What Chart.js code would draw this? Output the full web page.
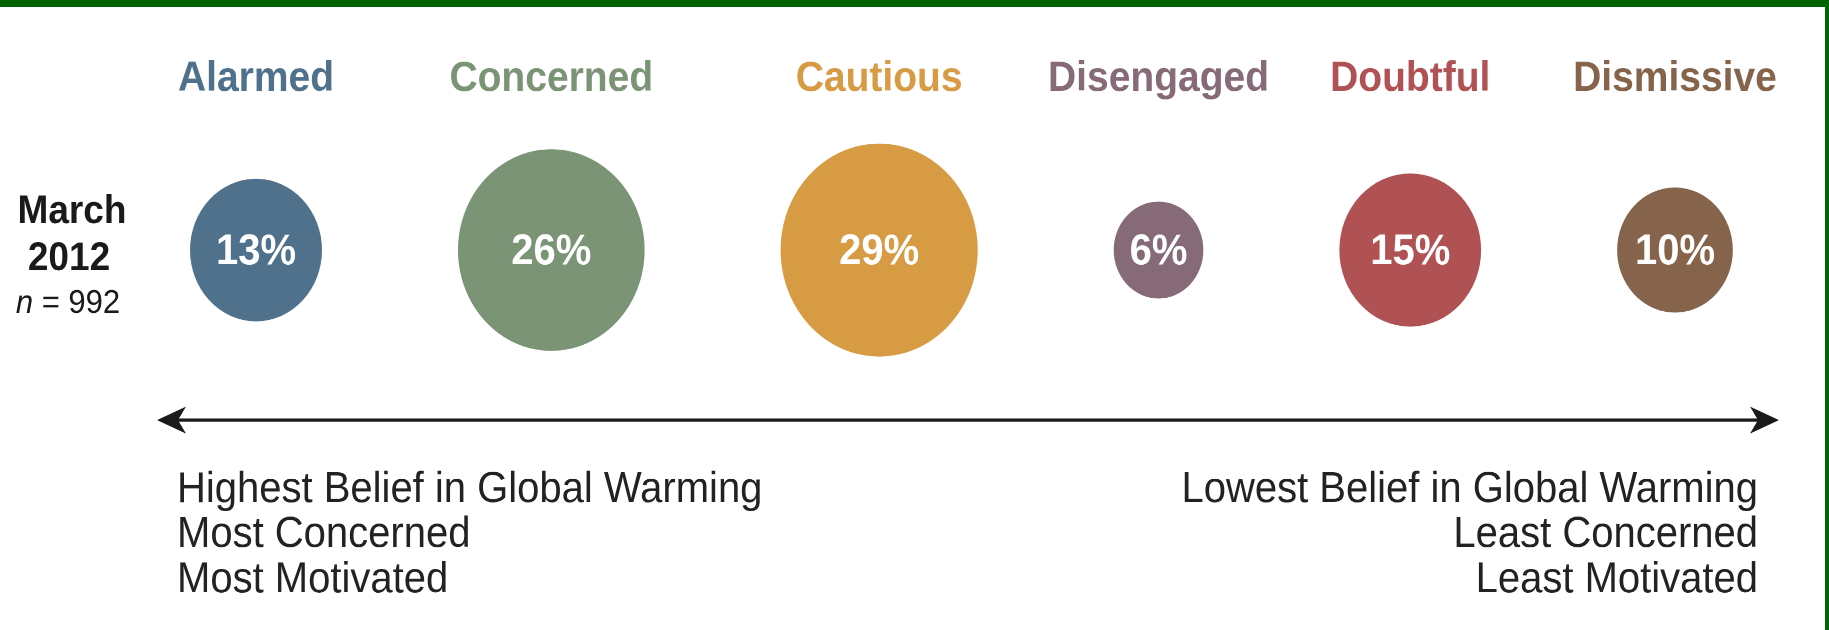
<!DOCTYPE html>
<html>
<head>
<meta charset="utf-8">
<script src="https://cdn.jsdelivr.net/npm/chart.js@4.4.1/dist/chart.umd.min.js"></script>
<style>
    html, body { margin: 0; padding: 0; background: #ffffff; }
    body { width: 1829px; height: 630px; overflow: hidden; position: relative; }
    #stretch {
        position: absolute; left: 0; top: 0;
        width: 1829px; height: 583px;
        transform: scaleY(1.0806); transform-origin: 0 0;
    }
    #frame {
        position: absolute; left: 0; top: 0;
        width: 1829px; height: 630px; box-sizing: border-box;
        border-top: 7px solid #006400; border-right: 4px solid #006400;
        pointer-events: none;
    }
</style>
</head>
<body>
<div id="stretch"><canvas id="segments"></canvas></div>
<div id="frame"></div>
<script>
// Global Warming's Six Americas, March 2012
const categories = ['Alarmed', 'Concerned', 'Cautious', 'Disengaged', 'Doubtful', 'Dismissive'];
const shares = [13, 26, 29, 6, 15, 10]; // percent of respondents
const colors = ['#50718c', '#7b9476', '#d69b43', '#866a77', '#b05254', '#86644b'];
const rowLabel = 'March 2012';
const sampleSize = 992;
const leftNotes = ['Highest Belief in Global Warming', 'Most Concerned', 'Most Motivated'];
const rightNotes = ['Lowest Belief in Global Warming', 'Least Concerned', 'Least Motivated'];

const FONT = '"Liberation Sans", Arial, Helvetica, sans-serif';
const W = 1829;            // canvas width, x scale runs in pixels
const PX_PER_ROOT = 18.3;  // bubble radius per sqrt(percent) -> area ~ share
const GAP = 136;           // space between neighbouring bubbles
const FIRST_X = 256;

// bubbles are packed left to right, edge to edge plus a fixed gap
const radii = shares.map(p => Math.sqrt(p) * PX_PER_ROOT);
const centers = [];
radii.forEach((r, i) => {
    if (i === 0) centers.push(FIRST_X);
    else centers.push(centers[i - 1] + radii[i - 1] + r + GAP);
});

const annotations = {
    id: 'annotations',
    afterDatasetsDraw(chart) {
        const ctx = chart.ctx;
        const meta = chart.getDatasetMeta(0);
        ctx.save();

        // percentages inside the bubbles
        ctx.fillStyle = '#ffffff';
        ctx.font = `bold 40px ${FONT}`;
        ctx.textAlign = 'center';
        ctx.textBaseline = 'middle';
        meta.data.forEach((el, i) => {
            ctx.fillText(shares[i] + '%', el.x, el.y + 2);
        });

        // row label on the left
        const rowY = chart.scales.y.getPixelForValue(0);
        const cx = 70;
        ctx.fillStyle = '#1a1a1a';
        ctx.textBaseline = 'alphabetic';
        ctx.font = `bold 37px ${FONT}`;
        const parts = rowLabel.split(' ');
        ctx.fillText(parts[0], cx + 2, rowY - 25);
        ctx.fillText(parts[1], cx - 1, rowY + 18.5);

        ctx.font = `italic 31px ${FONT}`;
        const nW = ctx.measureText('n').width;
        ctx.font = `31px ${FONT}`;
        const rest = ' = ' + sampleSize;
        const restW = ctx.measureText(rest).width;
        const sx = cx - 2 - (nW + restW) / 2;
        ctx.textAlign = 'left';
        ctx.font = `italic 31px ${FONT}`;
        ctx.fillText('n', sx, rowY + 58);
        ctx.font = `31px ${FONT}`;
        ctx.fillText(rest, sx + nW, rowY + 58);

        // double-headed arrow
        const ay = 388.7, x0 = 157, x1 = 1779;
        ctx.strokeStyle = '#1a1a1a';
        ctx.fillStyle = '#1a1a1a';
        ctx.lineWidth = 3;
        ctx.beginPath();
        ctx.moveTo(x0 + 10, ay);
        ctx.lineTo(x1 - 10, ay);
        ctx.stroke();
        [[x0, 1], [x1, -1]].forEach(([tip, d]) => {
            ctx.beginPath();
            ctx.moveTo(tip, ay);
            ctx.lineTo(tip + d * 29, ay - 12.5);
            ctx.lineTo(tip + d * 21, ay);
            ctx.lineTo(tip + d * 29, ay + 12.5);
            ctx.closePath();
            ctx.fill();
        });

        // notes under the arrow
        ctx.font = `40px ${FONT}`;
        ctx.fillStyle = '#222222';
        const baselines = [464.6, 506.2, 547.8];
        ctx.textAlign = 'left';
        leftNotes.forEach((t, i) => ctx.fillText(t, 177, baselines[i]));
        ctx.textAlign = 'right';
        rightNotes.forEach((t, i) => ctx.fillText(t, 1758, baselines[i]));

        ctx.restore();
    }
};

const chart = new Chart(document.getElementById('segments'), {
    type: 'bubble',
    data: {
        datasets: [{
            label: rowLabel,
            data: shares.map((p, i) => ({ x: centers[i], y: rowLabel, r: radii[i] })),
            backgroundColor: colors,
            borderWidth: 0,
            hoverRadius: 0,
            clip: false
        }]
    },
    options: {
        responsive: true,
        maintainAspectRatio: false,
        animation: false,
        devicePixelRatio: 2,
        layout: {
            autoPadding: false,
            padding: { top: 50, bottom: 217, left: 0, right: 0 }
        },
        plugins: {
            legend: { display: false },
            tooltip: { enabled: false }
        },
        scales: {
            x: {
                type: 'linear',
                position: 'top',
                min: 0,
                max: W,
                grid: { display: false, drawTicks: false },
                border: { display: false },
                afterBuildTicks: scale => {
                    scale.ticks = centers.map(v => ({ value: v }));
                },
                afterFit: scale => {
                    // labels sit well inside the canvas, no extra side padding
                    scale.paddingLeft = 0;
                    scale.paddingRight = 0;
                },
                ticks: {
                    autoSkip: false,
                    maxRotation: 0,
                    padding: 0,
                    font: { family: FONT, size: 39, weight: 'bold' },
                    color: ctx => colors[ctx.index],
                    callback: (value, index) => categories[index]
                }
            },
            y: {
                type: 'category',
                labels: [rowLabel],
                offset: true,
                display: false
            }
        }
    },
    plugins: [annotations]
});
</script>
</body>
</html>
